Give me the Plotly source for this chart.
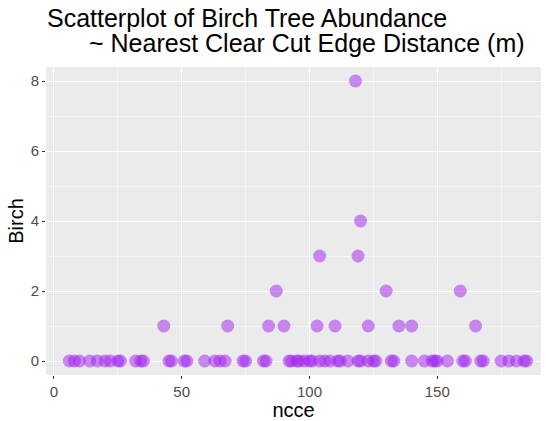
import plotly.graph_objects as go

# nearest clear cut edge distance (m) and birch counts
ncce_zero = [6, 8, 10, 14, 17, 20, 22, 25, 26, 32, 34, 35, 45, 46, 51, 52,
             59, 63, 65, 67, 74, 75, 82, 83, 92, 93, 95, 96, 98, 100, 101,
             104, 106, 108, 111, 112, 115, 119, 120, 123, 125, 126, 132, 133,
             140, 145, 148, 149, 150, 154, 160, 161, 167, 168, 175, 178, 181,
             184, 185]
ncce_pos = [43, 68, 84, 90, 103, 110, 123, 135, 140, 165,
            87, 130, 159,
            104, 119,
            120,
            118]
birch_pos = [1, 1, 1, 1, 1, 1, 1, 1, 1, 1,
             2, 2, 2,
             3, 3,
             4,
             8]

ncce = ncce_zero + ncce_pos
birch = [0] * len(ncce_zero) + birch_pos

PANEL = "#EBEBEB"
POINT = "rgba(160,32,240,0.5)"
FONT = "Liberation Sans, Arial, sans-serif"

fig = go.Figure(go.Scatter(
    x=ncce, y=birch, mode="markers",
    marker=dict(size=13, color=POINT, line=dict(width=0)),
    showlegend=False,
))

axis_common = dict(
    showgrid=True, gridcolor="white", gridwidth=1.2,
    zeroline=False, showline=False,
    ticks="outside", ticklen=3, tickcolor="#333333", tickwidth=1,
    tickfont=dict(size=15, color="#4D4D4D", family=FONT),
)

fig.update_xaxes(
    range=[-3.1, 190.6], tickvals=[0, 50, 100, 150],
    minor=dict(tickvals=[25, 75, 125, 175], showgrid=True,
               gridcolor="#F5F5F5", gridwidth=0.6, ticks=""),
    title=dict(text="ncce", font=dict(size=20, color="black", family=FONT),
               standoff=4),
    automargin=False,
    **axis_common,
)
fig.update_yaxes(
    range=[-0.4, 8.4], tickvals=[0, 2, 4, 6, 8],
    minor=dict(tickvals=[1, 3, 5, 7], showgrid=True,
               gridcolor="#F5F5F5", gridwidth=0.6, ticks=""),
    title=dict(text="Birch", font=dict(size=20, color="black", family=FONT),
               standoff=1),
    automargin=False,
    **axis_common,
)

fig.update_layout(
    width=546, height=421,
    margin=dict(l=46, r=5, t=67, b=46),
    plot_bgcolor=PANEL, paper_bgcolor="white",
    font=dict(family=FONT),
    annotations=[
        dict(text="Scatterplot of Birch Tree Abundance", xref="paper", yref="paper",
             x=-0.002, y=1.16, xanchor="left", yanchor="middle", showarrow=False,
             font=dict(size=25, color="black", family=FONT)),
        dict(text="~ Nearest Clear Cut Edge Distance (m)", xref="paper", yref="paper",
             x=0.083, y=1.078, xanchor="left", yanchor="middle", showarrow=False,
             font=dict(size=25, color="black", family=FONT)),
    ],
)

# drop the browser's default 8px body margin so the figure fills the window
fig.write_html("out.html", config={"displayModeBar": False},
               post_script="document.body.style.margin='0';")
